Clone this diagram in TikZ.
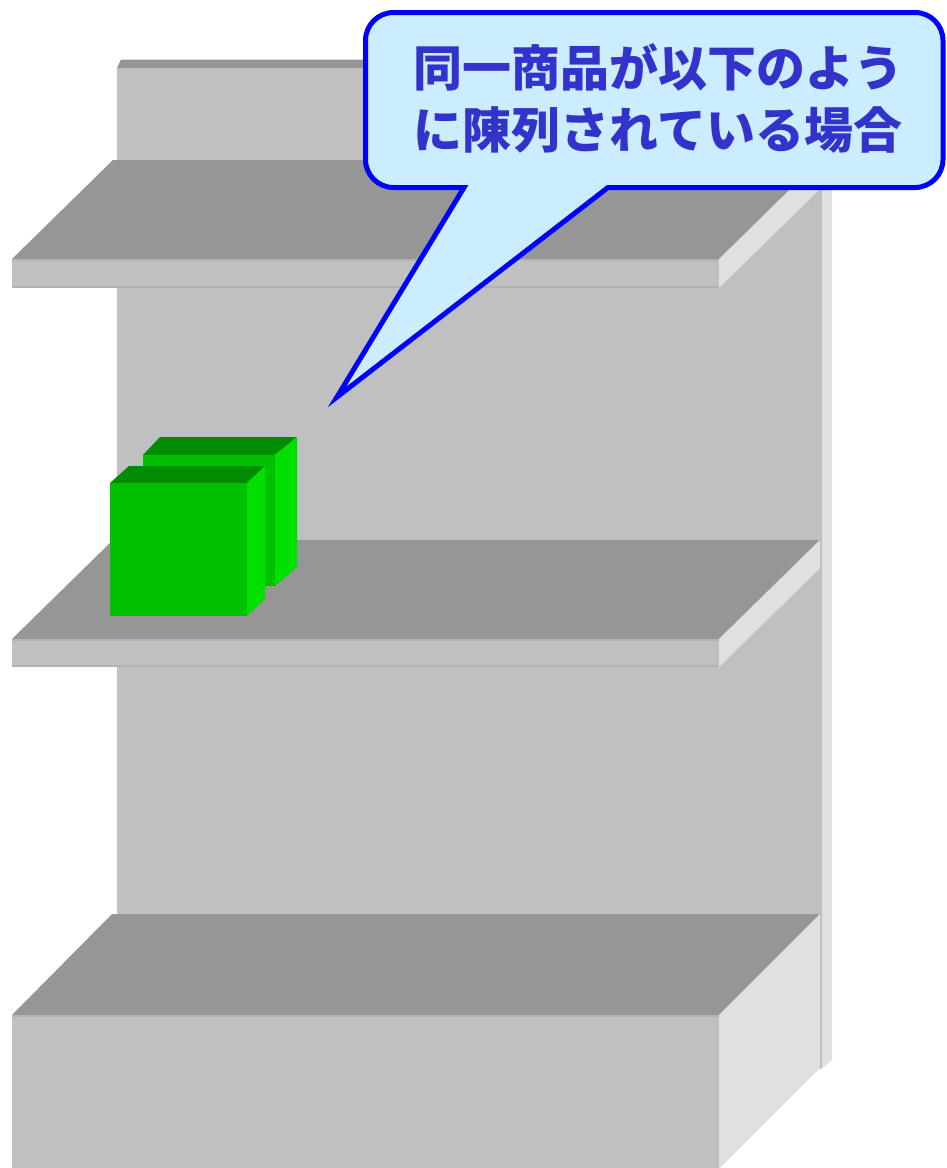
\documentclass[tikz,border=0pt]{standalone}
\usepackage{fontspec}
\newfontfamily\jpfont{Noto Sans CJK JP Black}
\definecolor{panelgray}{HTML}{C0C0C0}
\definecolor{topgray}{HTML}{969696}
\definecolor{sidegray}{HTML}{E0E0E0}
\definecolor{edgegray}{HTML}{B2B2B2}
\definecolor{boxtop}{HTML}{008C00}
\definecolor{boxfront}{HTML}{00C000}
\definecolor{boxside}{HTML}{00E000}
\definecolor{calloutfill}{HTML}{CCECFF}
\definecolor{calloutline}{HTML}{0000FF}
\definecolor{callouttext}{HTML}{3333CC}
\begin{document}
\begin{tikzpicture}[x=1pt,y=-1pt,
  face/.style={fill=panelgray},
  top/.style={fill=topgray},
  side/.style={fill=sidegray},
  rim/.style={draw=edgegray,line width=1.5pt},
  gtop/.style={fill=boxtop},
  gfront/.style={fill=boxfront},
  gside/.style={fill=boxside},
  callout/.style={draw=calloutline,fill=calloutfill,line width=5pt,line join=miter,miter limit=20},
  label/.style={text=callouttext,font=\jpfont\fontsize{49}{62}\selectfont,anchor=base,inner sep=0pt}]
\useasboundingbox (0,0) rectangle (946,1168);

% back panel: side strip, board and top cap
\fill[side] (821,68) -- (832,58) -- (832,1060) -- (821,1069) -- cycle;
\fill[face] (117,68) rectangle (821,1069);
\draw[draw=sidegray!85!black,line width=0.8pt] (821,68) -- (821,1068);
\fill[top] (117,68) -- (121,59.5) -- (830,59.5) -- (821,68) -- cycle;

% upper shelf
\fill[top] (12,259) -- (113,160) -- (820,160) -- (719,259) -- cycle;
\fill[face] (12,259) rectangle (719,288);
\draw[rim] (12,260) -- (719,260);
\draw[rim] (12,287) -- (719,287);
\fill[side] (719,259) -- (820,160) -- (820,189) -- (719,288) -- cycle;

% middle shelf
\fill[top] (12,639) -- (113,540) -- (820,540) -- (719,639) -- cycle;
\fill[face] (12,639) rectangle (719,667);
\draw[rim] (12,640) -- (719,640);
\draw[rim] (12,666) -- (719,666);
\fill[side] (719,639) -- (820,540) -- (820,568) -- (719,667) -- cycle;

% base block
\fill[top] (12,1015) -- (112,914) -- (820,914) -- (719,1015) -- cycle;
\fill[face] (12,1015) rectangle (719,1168);
\draw[rim] (12,1016) -- (719,1016);
\fill[side] (719,1015) -- (820,914) -- (820,1068) -- (720,1168) -- (719,1168) -- cycle;

% rear green box
\fill[gtop] (143,455) -- (160,437) -- (297,437) -- (275,455) -- cycle;
\fill[gside] (275,455) -- (297,437) -- (297,567) -- (275,586) -- cycle;
\fill[gfront] (143,455) rectangle (275,586);

% front green box
\fill[gtop] (110,483) -- (129,466) -- (265,466) -- (247,483) -- cycle;
\fill[gside] (247,483) -- (265,466) -- (265,599) -- (247,616) -- cycle;
\fill[gfront] (110,483) rectangle (247,616);

% speech bubble with its pointer
\draw[callout] (608,187.5) -- (915,187.5)
  arc[start angle=90,end angle=0,radius=28] -- (943,40.5)
  arc[start angle=0,end angle=-90,radius=28] -- (393.5,12.5)
  arc[start angle=-90,end angle=-180,radius=28] -- (365.5,159.5)
  arc[start angle=180,end angle=90,radius=28] -- (464,187.5)
  -- (337,397) -- cycle;
\node[label] (line1) at (658,86.5) {同一商品が以下のよう};
\node[label] (line2) at (658,148.5) {に陳列されている場合};
\end{tikzpicture}
\end{document}
